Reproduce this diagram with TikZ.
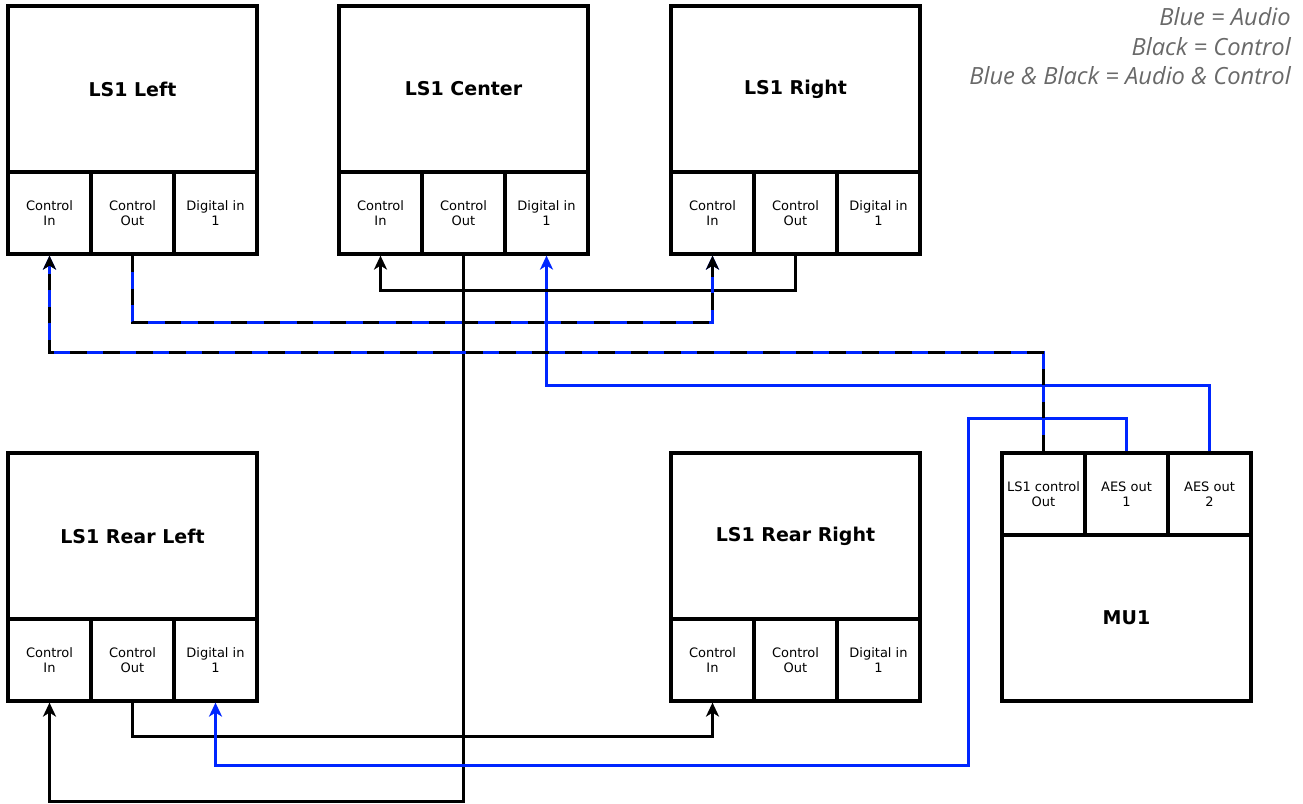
\documentclass[tikz,border=0pt]{standalone}
\usepackage{fontspec}
\setmainfont{DejaVu Sans}
\newfontfamily\legendfont{Open Sans}
\usetikzlibrary{arrows.meta}
\definecolor{audioblue}{RGB}{0,38,255}
\definecolor{legendgray}{RGB}{105,105,105}
\begin{document}
\begin{tikzpicture}[x=1pt,y=-1pt,
  hdr/.style={draw, line width=3.2pt, minimum width=249pt, minimum height=166pt, inner sep=0pt, font=\fontsize{19}{22}\selectfont\bfseries},
  port/.style={draw, line width=3.2pt, minimum width=83pt, minimum height=82pt, inner sep=0pt, align=center, font=\fontsize{13}{15.5}\selectfont},
  tip/.style={-{Stealth[length=14pt,width=13pt,inset=4pt]}},
  ctl/.style={line width=3pt, black, tip},
  aud/.style={line width=3pt, audioblue, tip},
  dashblack/.style={line width=3pt, black, dash pattern=on 16.5pt off 16.5pt, tip},
  legend/.style={anchor=base east, inner sep=0pt, text=legendgray, font=\fontsize{23.7}{27}\selectfont\legendfont\itshape}
]
\useasboundingbox (0,0) rectangle (1303,803);
\fill[white] (0,0) rectangle (1303,803);

% LS1 Left
\node[hdr] (L) at (132.5,89) {LS1 Left};
\node[port] (lci) at (49.5,213) {Control\\In};
\node[port] (lco) at (132.5,213) {Control\\Out};
\node[port] (ldi) at (215.5,213) {Digital in\\1};

% LS1 Center
\node[hdr] (C) at (463.5,89) {LS1 Center};
\node[port] (cci) at (380.5,213) {Control\\In};
\node[port] (cco) at (463.5,213) {Control\\Out};
\node[port] (cdi) at (546.5,213) {Digital in\\1};

% LS1 Right
\node[hdr] (R) at (795.5,89) {LS1 Right};
\node[port] (rci) at (712.5,213) {Control\\In};
\node[port] (rco) at (795.5,213) {Control\\Out};
\node[port] (rdi) at (878.5,213) {Digital in\\1};

% LS1 Rear Left
\node[hdr] (RL) at (132.5,536) {LS1 Rear Left};
\node[port] (rlci) at (49.5,660) {Control\\In};
\node[port] (rlco) at (132.5,660) {Control\\Out};
\node[port] (rldi) at (215.5,660) {Digital in\\1};

% LS1 Rear Right
\node[hdr] (RR) at (795.5,536) {LS1 Rear Right};
\node[port] (rrci) at (712.5,660) {Control\\In};
\node[port] (rrco) at (795.5,660) {Control\\Out};
\node[port] (rrdi) at (878.5,660) {Digital in\\1};

% MU1
\node[port] (mco) at (1043.5,494) {LS1 control\\Out};
\node[port] (aes1) at (1126.5,494) {AES out\\1};
\node[port] (aes2) at (1209.5,494) {AES out\\2};
\node[hdr] (MU) at (1126.5,618) {MU1};

% Legend
\node[legend] (leg1) at (1291,25) {Blue = Audio};
\node[legend] (leg2) at (1291,55) {Black = Control};
\node[legend] (leg3) at (1291,84) {Blue \& Black = Audio \& Control};

% Connectors
\draw[ctl] (cco.south) -- ++(0,546) -| (rlci.south);
\draw[ctl] (rlco.south) -- ++(0,34) -| (rrci.south);
\draw[aud] (aes1.north) -- ++(0,-33) -- ++(-158.5,0) -- ++(0,347) -| (rldi.south);
\draw[aud] (aes2.north) -- ++(0,-66) -| (cdi.south);
\draw[ctl] (rco.south) -- ++(0,35) -| (cci.south);
% audio & control (blue underlay + black dashes)
\draw[aud] (lco.south) -- ++(0,67) -| (rci.south);
\draw[dashblack] (lco.south) -- ++(0,67) -| (rci.south);
\draw[aud] (mco.north) -- ++(0,-99) -| (lci.south);
\draw[dashblack] (mco.north) -- ++(0,-99) -| (lci.south);
\end{tikzpicture}
\end{document}
